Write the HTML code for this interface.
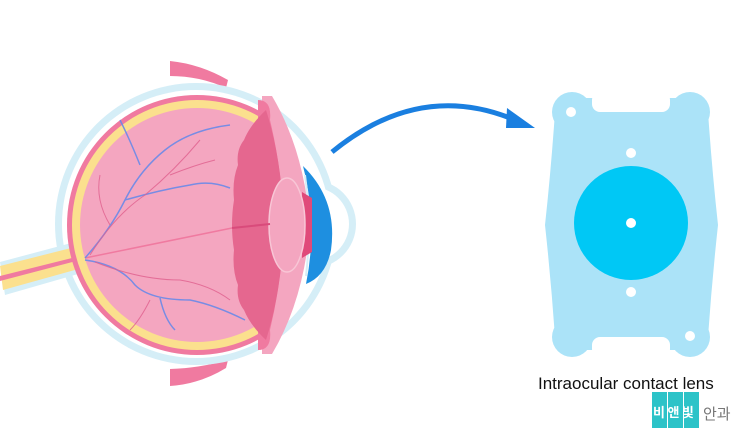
<!DOCTYPE html>
<html><head><meta charset="utf-8"><style>
html,body{margin:0;padding:0;background:#fff;width:750px;height:444px;overflow:hidden}
</style></head><body>
<svg width="750" height="444" viewBox="0 0 750 444" xmlns="http://www.w3.org/2000/svg">
<defs><clipPath id="cl"><rect x="0" y="0" width="268" height="444"/></clipPath></defs>
<!-- muscles -->
<path d="M170 61 Q200 64 228 80 L226 88 Q200 76 170 76 Z" fill="#f07aa0"/>
<path d="M170 369 Q200 368 228 360 L226 368 Q200 384 170 386 Z" fill="#f07aa0"/>
<!-- outer light blue -->
<circle cx="196" cy="224" r="141" fill="#d5eef7"/>
<circle cx="312" cy="224" r="44" fill="#d5eef7"/>
<circle cx="312" cy="224" r="37" fill="#fff"/>
<circle cx="196" cy="224" r="134" fill="#fff"/>
<!-- optic nerve -->
<path d="M0 262 L75 242 L85 272 L5 295 Z" fill="#d5eef7"/>
<path d="M0 266 L75 247 L82 268 L3 290 Z" fill="#fbe08e"/>
<path d="M0 276 L80 256 L80 260 L0 281 Z" fill="#f07aa0"/>
<!-- globe -->
<g clip-path="url(#cl)">
<circle cx="197" cy="225" r="130" fill="#f07aa0"/>
<circle cx="197" cy="225" r="125" fill="#fbe08e"/>
<circle cx="197" cy="225" r="117" fill="#f4a6c0"/>
</g>
<!-- anterior segment -->
<path d="M262 96 L272 96 Q304 150 310 225 Q304 300 272 354 L262 354 Z" fill="#f4a6c0"/>
<path d="M258 100 Q272 100 270 120 Q282 170 284 225 Q282 280 270 330 Q272 350 258 350 Z" fill="#f07aa0"/>
<path d="M266 110 Q250 125 244 140 Q236 150 238 165 Q232 180 234 200 Q230 225 234 250 Q232 270 238 285 Q236 300 244 310 Q250 325 266 340 Q282 290 284 225 Q282 160 266 110 Z" fill="#e5678f"/>
<!-- cornea -->
<path d="M303 166 Q338 200 331 250 Q326 276 306 284 Q318 225 303 166 Z" fill="#1e8fe0"/>
<path d="M305 175 Q312 225 306 276" fill="none" stroke="#d5eef7" stroke-width="2"/>
<path d="M302 192 L312 198 L312 252 L302 258 Z" fill="#e04a7a"/>
<ellipse cx="287" cy="225" rx="18" ry="47" fill="#f4a6c0" stroke="#f8c6d6" stroke-width="1.5"/>
<line x1="232" y1="228" x2="270" y2="224" stroke="#d94b7b" stroke-width="2"/>
<line x1="85" y1="258" x2="232" y2="228" stroke="#f07aa0" stroke-width="1.5"/>
<!-- vessels -->
<g fill="none" stroke="#6a8ae8" stroke-width="1.5" opacity="0.9">
<path d="M85 258 Q110 230 125 200 Q140 170 165 150 Q190 130 230 125"/>
<path d="M125 200 Q160 190 190 185 Q210 180 230 188"/>
<path d="M85 260 Q120 265 135 285 Q150 300 190 300 Q215 305 245 320"/>
<path d="M140 165 Q130 140 120 120"/>
<path d="M160 298 Q165 320 175 330"/>
</g>
<g fill="none" stroke="#e0608e" stroke-width="1" opacity="0.8">
<path d="M90 255 Q115 215 145 195 Q175 170 200 140"/>
<path d="M95 262 Q140 280 180 280 Q210 285 230 300"/>
<path d="M110 225 Q95 200 100 175"/>
<path d="M170 175 Q195 165 215 160"/>
<path d="M150 300 Q140 320 130 330"/>
</g>
<!-- arrow -->
<path d="M332 152 Q420 80 515 120" fill="none" stroke="#1a7fe0" stroke-width="5"/>
<path d="M507 108 L535 128 L506 128 Z" fill="#1a7fe0"/>
<!-- lens card -->
<g fill="#abe3f8">
<circle cx="572" cy="112" r="20"/><circle cx="690" cy="112" r="20"/>
<circle cx="572" cy="337" r="20"/><circle cx="690" cy="337" r="20"/>
<path d="M555 112 L708 112 Q712 170 718 225 Q712 280 708 337 L555 337 Q551 280 545 225 Q551 170 555 112 Z"/>
<rect x="572" y="98" width="118" height="14"/><rect x="572" y="336" width="118" height="14"/>
</g>
<rect x="592" y="92" width="78" height="20" fill="#fff" rx="8"/>
<rect x="592" y="337" width="78" height="20" fill="#fff" rx="8"/>
<circle cx="631" cy="223" r="57" fill="#00c8f5"/>
<g fill="#fff"><circle cx="631" cy="153" r="5"/><circle cx="631" cy="292" r="5"/><circle cx="631" cy="223" r="5"/><circle cx="571" cy="112" r="5"/><circle cx="690" cy="336" r="5"/></g>
<!-- text -->
<text x="538" y="389" font-family="Liberation Sans, sans-serif" font-size="17" fill="#111">Intraocular contact lens</text>
<rect x="652" y="392" width="15" height="36" fill="#2cc3c8"/>
<rect x="668" y="392" width="15" height="36" fill="#2cc3c8"/>
<rect x="684" y="392" width="15" height="36" fill="#2cc3c8"/>
<text x="653" y="417" font-family="Liberation Sans, 'Noto Sans CJK KR', sans-serif" font-size="13" font-weight="bold" fill="#fff" letter-spacing="2.5">비앤빛</text>
<text x="703" y="419" font-family="Liberation Sans, 'Noto Sans CJK KR', sans-serif" font-size="15" fill="#777">안과</text>
</svg>
</body></html>
